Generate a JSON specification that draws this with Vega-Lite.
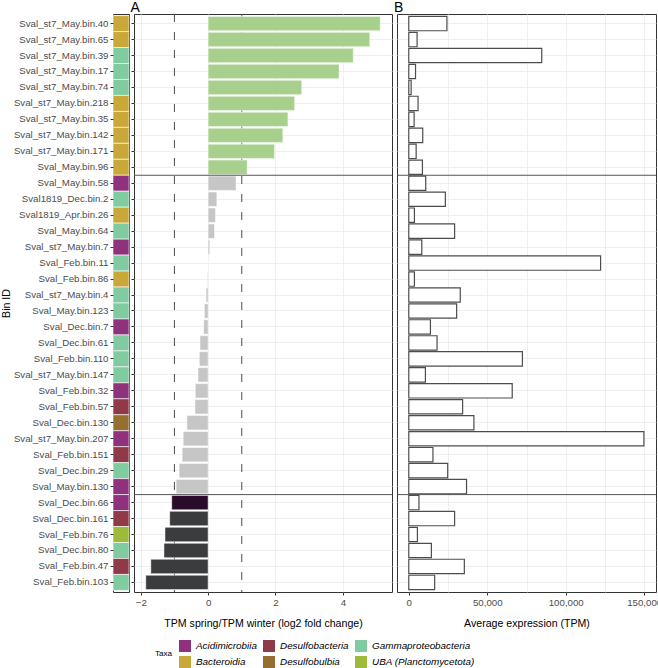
{
  "$schema": "https://vega.github.io/schema/vega-lite/v6.json",
  "padding": {"left": 0, "top": 0, "right": 0, "bottom": 0},
  "config": {
    "font": "Liberation Sans",
    "view": {"stroke": "#333333", "strokeWidth": 1},
    "axis": {
      "labelColor": "#4D4D4D", "labelFontSize": 9.7, "titleColor": "#000000",
      "titleFontSize": 10.6, "titleFontWeight": "normal", "tickColor": "#333333",
      "tickSize": 3, "domain": false, "gridColor": "#EBEBEB", "gridWidth": 0.8, "labelPadding": 2
    },
    "title": {"fontSize": 14, "fontWeight": "normal", "anchor": "start", "offset": -1, "color": "#000000"}
  },
  "spacing": 0,
  "datasets": {
    "bins": [
      {"bin": "Sval_st7_May.bin.40", "taxa": "Bacteroidia", "lfc": 5.11, "tpm": 24300, "grp": "up"},
      {"bin": "Sval_st7_May.bin.65", "taxa": "Bacteroidia", "lfc": 4.80, "tpm": 5300, "grp": "up"},
      {"bin": "Sval_st7_May.bin.39", "taxa": "Gammaproteobacteria", "lfc": 4.31, "tpm": 84700, "grp": "up"},
      {"bin": "Sval_st7_May.bin.17", "taxa": "Gammaproteobacteria", "lfc": 3.89, "tpm": 4300, "grp": "up"},
      {"bin": "Sval_st7_May.bin.74", "taxa": "Gammaproteobacteria", "lfc": 2.78, "tpm": 1500, "grp": "up"},
      {"bin": "Sval_st7_May.bin.218", "taxa": "Bacteroidia", "lfc": 2.57, "tpm": 5900, "grp": "up"},
      {"bin": "Sval_st7_May.bin.35", "taxa": "Bacteroidia", "lfc": 2.37, "tpm": 3400, "grp": "up"},
      {"bin": "Sval_st7_May.bin.142", "taxa": "Bacteroidia", "lfc": 2.22, "tpm": 8900, "grp": "up"},
      {"bin": "Sval_st7_May.bin.171", "taxa": "Bacteroidia", "lfc": 1.97, "tpm": 4700, "grp": "up"},
      {"bin": "Sval_May.bin.96", "taxa": "Bacteroidia", "lfc": 1.16, "tpm": 8700, "grp": "up"},
      {"bin": "Sval_May.bin.58", "taxa": "Acidimicrobiia", "lfc": 0.83, "tpm": 10800, "grp": "ns"},
      {"bin": "Sval1819_Dec.bin.2", "taxa": "Gammaproteobacteria", "lfc": 0.26, "tpm": 23300, "grp": "ns"},
      {"bin": "Sval1819_Apr.bin.26", "taxa": "Bacteroidia", "lfc": 0.22, "tpm": 3600, "grp": "ns"},
      {"bin": "Sval_May.bin.64", "taxa": "Gammaproteobacteria", "lfc": 0.19, "tpm": 29200, "grp": "ns"},
      {"bin": "Sval_st7_May.bin.7", "taxa": "Acidimicrobiia", "lfc": 0.05, "tpm": 8300, "grp": "ns"},
      {"bin": "Sval_Feb.bin.11", "taxa": "Gammaproteobacteria", "lfc": 0.01, "tpm": 122200, "grp": "ns"},
      {"bin": "Sval_Feb.bin.86", "taxa": "Bacteroidia", "lfc": -0.02, "tpm": 3600, "grp": "ns"},
      {"bin": "Sval_st7_May.bin.4", "taxa": "Gammaproteobacteria", "lfc": -0.06, "tpm": 32800, "grp": "ns"},
      {"bin": "Sval_May.bin.123", "taxa": "Gammaproteobacteria", "lfc": -0.11, "tpm": 30500, "grp": "ns"},
      {"bin": "Sval_Dec.bin.7", "taxa": "Acidimicrobiia", "lfc": -0.13, "tpm": 13800, "grp": "ns"},
      {"bin": "Sval_Dec.bin.61", "taxa": "Gammaproteobacteria", "lfc": -0.24, "tpm": 18000, "grp": "ns"},
      {"bin": "Sval_Feb.bin.110", "taxa": "Gammaproteobacteria", "lfc": -0.26, "tpm": 72400, "grp": "ns"},
      {"bin": "Sval_st7_May.bin.147", "taxa": "Gammaproteobacteria", "lfc": -0.30, "tpm": 10600, "grp": "ns"},
      {"bin": "Sval_Feb.bin.32", "taxa": "Acidimicrobiia", "lfc": -0.38, "tpm": 65900, "grp": "ns"},
      {"bin": "Sval_Feb.bin.57", "taxa": "Desulfobacteria", "lfc": -0.39, "tpm": 34300, "grp": "ns"},
      {"bin": "Sval_Dec.bin.130", "taxa": "Desulfobulbia", "lfc": -0.63, "tpm": 41500, "grp": "ns"},
      {"bin": "Sval_st7_May.bin.207", "taxa": "Acidimicrobiia", "lfc": -0.74, "tpm": 149800, "grp": "ns"},
      {"bin": "Sval_Feb.bin.151", "taxa": "Desulfobacteria", "lfc": -0.77, "tpm": 15400, "grp": "ns"},
      {"bin": "Sval_Dec.bin.29", "taxa": "Gammaproteobacteria", "lfc": -0.86, "tpm": 24800, "grp": "ns"},
      {"bin": "Sval_May.bin.130", "taxa": "Acidimicrobiia", "lfc": -0.95, "tpm": 36800, "grp": "ns"},
      {"bin": "Sval_Dec.bin.66", "taxa": "Acidimicrobiia", "lfc": -1.08, "tpm": 6500, "grp": "down2"},
      {"bin": "Sval_Dec.bin.161", "taxa": "Desulfobacteria", "lfc": -1.14, "tpm": 29200, "grp": "down"},
      {"bin": "Sval_Feb.bin.76", "taxa": "UBA (Planctomycetota)", "lfc": -1.28, "tpm": 5500, "grp": "down"},
      {"bin": "Sval_Dec.bin.80", "taxa": "Gammaproteobacteria", "lfc": -1.31, "tpm": 14400, "grp": "down"},
      {"bin": "Sval_Feb.bin.47", "taxa": "Desulfobacteria", "lfc": -1.70, "tpm": 35400, "grp": "down"},
      {"bin": "Sval_Feb.bin.103", "taxa": "Gammaproteobacteria", "lfc": -1.85, "tpm": 16500, "grp": "down"}
    ]
  },
  "hconcat": [
    {
      "width": 16,
      "height": 578,
      "data": {"name": "bins"},
      "mark": {"type": "rect", "stroke": "white", "strokeWidth": 0.6},
      "encoding": {
        "y": {
          "field": "bin", "type": "nominal",
          "sort": {"field": "lfc", "order": "descending"},
          "scale": {"paddingInner": 0, "paddingOuter": 0.1},
          "axis": {"title": "Bin ID", "titlePadding": 2, "grid": false}
        },
        "color": {
          "field": "taxa", "type": "nominal",
          "scale": {
            "domain": ["Acidimicrobiia", "Desulfobacteria", "Gammaproteobacteria", "Bacteroidia", "Desulfobulbia", "UBA (Planctomycetota)"],
            "range": ["#8E327D", "#8E3A48", "#80CBA0", "#C9A83A", "#966E32", "#9DBA3A"]
          },
          "legend": {
            "title": "Taxa", "orient": "none", "legendX": 42, "legendY": 626,
            "direction": "horizontal", "columns": 3, "titleOrient": "left", "titleAnchor": "middle",
            "titleFontSize": 8.1, "titleFontWeight": "normal", "titleColor": "#000000", "titlePadding": 6,
            "labelFontSize": 9.9, "labelFontStyle": "italic", "labelColor": "#000000", "labelOffset": 5,
            "symbolType": "square", "symbolSize": 144, "symbolStrokeWidth": 0, "symbolOpacity": 1,
            "rowPadding": 4, "columnPadding": 6
          }
        }
      }
    },
    {
      "width": 258,
      "height": 578,
      "title": {"text": "A"},
      "layer": [
        {
          "data": {"values": [{"v": -1}, {"v": 1}]},
          "mark": {"type": "rule", "strokeDash": [8, 10], "color": "#4D4D4D", "strokeWidth": 1},
          "encoding": {"x": {"field": "v", "type": "quantitative"}}
        },
        {
          "data": {"name": "bins"},
          "mark": {"type": "bar", "height": {"band": 0.9}, "stroke": "white", "strokeWidth": 0.5},
          "encoding": {
            "y": {
              "field": "bin", "type": "nominal",
              "sort": {"field": "lfc", "order": "descending"},
              "scale": {"paddingInner": 0, "paddingOuter": 0.1},
              "axis": {"title": null, "labels": false, "ticks": true, "grid": true, "bandPosition": 0.5}
            },
            "x": {
              "field": "lfc", "type": "quantitative",
              "scale": {"domain": [-2.2, 5.46], "nice": false, "zero": false},
              "axis": {
                "title": "TPM spring/TPM winter (log2 fold change)",
                "titlePadding": 12,
                "values": [-2, -1, 0, 1, 2, 3, 4, 5],
                "labelExpr": "datum.value == 3 || datum.value == 5 ? '' : datum.label",
                "tickOpacity": {"condition": {"test": "datum.value == 3 || datum.value == 5", "value": 0}, "value": 1},
                "grid": true
              }
            },
            "fill": {
              "field": "grp", "type": "nominal",
              "scale": {"domain": ["up", "ns", "down2", "down"], "range": ["#A8D08D", "#C6C6C6", "#2A0B2A", "#3A3C3D"]},
              "legend": null
            }
          }
        },
        {
          "data": {"name": "bins"},
          "mark": {"type": "rule", "color": "#555555", "strokeWidth": 1},
          "encoding": {
            "y": {"field": "bin", "type": "nominal", "sort": {"field": "lfc", "order": "descending"}, "bandPosition": 0},
            "strokeOpacity": {"condition": {"test": "datum.bin == 'Sval_May.bin.58' || datum.bin == 'Sval_Dec.bin.66'", "value": 1}, "value": 0}
          }
        }
      ]
    },
    {
      "width": 259,
      "height": 578,
      "title": {"text": "B"},
      "layer": [
        {
          "data": {"name": "bins"},
          "mark": {"type": "bar", "height": {"band": 0.9}, "fill": "white", "stroke": "#4D4D4D", "strokeWidth": 1.2},
          "encoding": {
            "y": {
              "field": "bin", "type": "nominal",
              "sort": {"field": "lfc", "order": "descending"},
              "scale": {"paddingInner": 0, "paddingOuter": 0.1},
              "axis": {"title": null, "labels": false, "ticks": true, "tickOpacity": 0, "grid": true, "bandPosition": 0.5}
            },
            "x": {
              "field": "tpm", "type": "quantitative",
              "scale": {"domain": [-7500, 157500], "nice": false, "zero": false},
              "axis": {
                "title": "Average expression (TPM)",
                "titlePadding": 12,
                "values": [0, 25000, 50000, 75000, 100000, 125000, 150000],
                "format": ",d",
                "labelExpr": "datum.value % 50000 != 0 ? '' : datum.label",
                "tickOpacity": {"condition": {"test": "datum.value % 50000 != 0", "value": 0}, "value": 1},
                "grid": true
              }
            }
          }
        },
        {
          "data": {"name": "bins"},
          "mark": {"type": "rule", "color": "#555555", "strokeWidth": 1},
          "encoding": {
            "y": {"field": "bin", "type": "nominal", "sort": {"field": "lfc", "order": "descending"}, "bandPosition": 0},
            "strokeOpacity": {"condition": {"test": "datum.bin == 'Sval_May.bin.58' || datum.bin == 'Sval_Dec.bin.66'", "value": 1}, "value": 0}
          }
        }
      ]
    }
  ]
}
